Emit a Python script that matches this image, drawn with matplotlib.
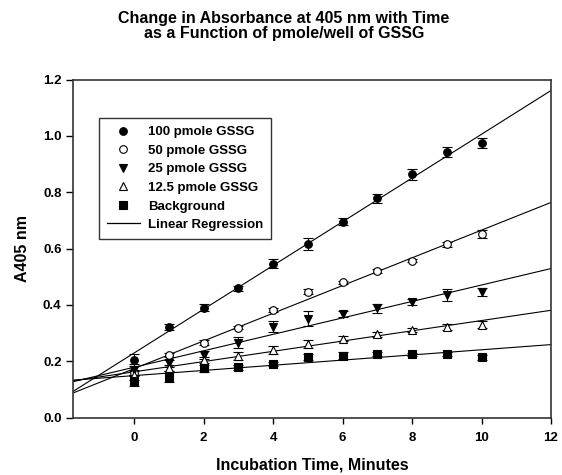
import numpy as np
import matplotlib
matplotlib.use("Agg")
import matplotlib.pyplot as plt
from matplotlib.lines import Line2D

plt.rcParams['font.family'] = ['Liberation Sans', 'DejaVu Sans']
plt.rcParams['font.weight'] = 'bold'

minutes = [0, 1, 2, 3, 4, 5, 6, 7, 8, 9, 10]

a_100 = [0.205, 0.323, 0.391, 0.459, 0.547, 0.616, 0.695, 0.778, 0.864, 0.943, 0.975]
a_50 = [0.158, 0.223, 0.266, 0.320, 0.382, 0.447, 0.480, 0.520, 0.557, 0.615, 0.651]
a_25 = [0.170, 0.193, 0.222, 0.266, 0.323, 0.352, 0.368, 0.388, 0.411, 0.435, 0.447]
a_12 = [0.150, 0.176, 0.205, 0.219, 0.240, 0.261, 0.281, 0.296, 0.311, 0.323, 0.330]
a_bg = [0.132, 0.145, 0.175, 0.179, 0.190, 0.216, 0.220, 0.226, 0.225, 0.226, 0.214]

err_100 = [0.02, 0.01, 0.012, 0.01, 0.015, 0.02, 0.012, 0.015, 0.02, 0.018, 0.018]
err_50 = [0.01, 0.008, 0.008, 0.006, 0.008, 0.008, 0.006, 0.006, 0.006, 0.01, 0.015]
err_25 = [0.02, 0.012, 0.015, 0.02, 0.02, 0.025, 0.01, 0.015, 0.01, 0.02, 0.015]
err_12 = [0.015, 0.01, 0.01, 0.015, 0.015, 0.015, 0.01, 0.008, 0.008, 0.01, 0.012]
err_bg = [0.02, 0.02, 0.012, 0.008, 0.008, 0.01, 0.012, 0.008, 0.006, 0.008, 0.008]

labels = ['100 pmole GSSG', '50 pmole GSSG', '25 pmole GSSG', '12.5 pmole GSSG', 'Background']
series = [a_100, a_50, a_25, a_12, a_bg]
errors = [err_100, err_50, err_25, err_12, err_bg]
markers = ['o', 'o', 'v', '^', 's']
faces = ['black', 'white', 'black', 'white', 'black']

fig = plt.figure(figsize=(5.62, 4.75), dpi=100)
ax = fig.add_axes([0.1294, 0.1206, 0.8510, 0.7120])

xmin, xmax = -1.77, 12
xs = np.array([xmin, xmax])

handles = []
for y, e, m, fc, lab in zip(series, errors, markers, faces, labels):
    ax.errorbar(minutes, y, yerr=e, fmt=m, color='black', mfc=fc, mec='black',
                ms=5.5, mew=0.8, elinewidth=0.8, capsize=3.5, capthick=0.8, zorder=3)
    k, b = np.polyfit(minutes, y, 1)
    ax.plot(xs, k * xs + b, color='black', lw=0.8, zorder=2)
    handles.append(Line2D([], [], ls='none', marker=m, mfc=fc, mec='black',
                          ms=5.5, mew=0.8, label=lab))
handles.append(Line2D([], [], color='black', lw=0.9, label='Linear Regression'))

ax.set_xlim(xmin, xmax)
ax.set_ylim(0, 1.2)
ax.set_xticks([0, 2, 4, 6, 8, 10, 12])
ax.set_yticks([0.0, 0.2, 0.4, 0.6, 0.8, 1.0, 1.2])
ax.set_yticklabels(['0.0', '0.2', '0.4', '0.6', '0.8', '1.0', '1.2'])
ax.tick_params(axis='y', direction='out', length=5, width=1, labelsize=9.5, pad=3)
ax.tick_params(axis='x', direction='out', length=4, width=1, labelsize=9.5, pad=6)
for s in ax.spines.values():
    s.set_linewidth(1.2)
    s.set_color('#333333')

ax.set_xlabel('Incubation Time, Minutes', fontsize=11.5, fontweight='bold', labelpad=10)
ax.set_ylabel('A405 nm', fontsize=11.5, fontweight='bold', labelpad=9)
fig.suptitle('Change in Absorbance at 405 nm with Time\nas a Function of pmole/well of GSSG',
             fontsize=11.5, fontweight='bold', x=0.505, y=0.976, linespacing=0.95)

leg = ax.legend(handles=handles, loc='upper left', bbox_to_anchor=(0.055, 0.886),
                borderaxespad=0, fontsize=9.5, frameon=True, fancybox=False,
                edgecolor='black', handlelength=2.5, labelspacing=0.48,
                borderpad=0.6, handletextpad=0.6)
leg.get_frame().set_linewidth(1.0)

fig.savefig('out.png', dpi=100)
